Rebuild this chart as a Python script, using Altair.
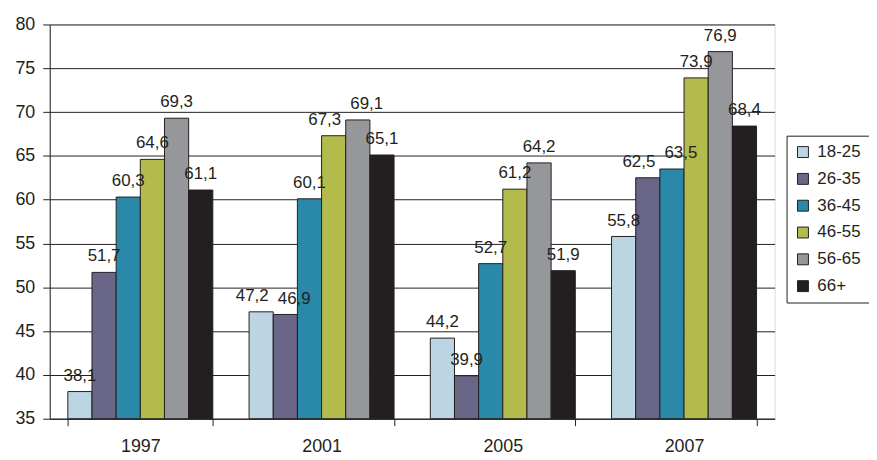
import altair as alt
import pandas as pd

years = ["1997", "2001", "2005", "2007"]
groups = ["18-25", "26-35", "36-45", "46-55", "56-65", "66+"]
colors = ["#bcd5e3", "#6a6688", "#2a89a9", "#b2bb4c", "#96979b", "#231f20"]

v1997 = [38.1, 51.7, 60.3, 64.6, 69.3, 61.1]
v2001 = [47.2, 46.9, 60.1, 67.3, 69.1, 65.1]
v2005 = [44.2, 39.9, 52.7, 61.2, 64.2, 51.9]
v2007 = [55.8, 62.5, 63.5, 73.9, 76.9, 68.4]

y_ticks = [35, 40, 45, 50, 55, 60, 65, 70, 75, 80]

rows = []
for yr, vals in zip(years, [v1997, v2001, v2005, v2007]):
    for i, (g, v) in enumerate(zip(groups, vals)):
        rows.append({"year": yr, "group": g, "idx": i, "value": v})
df = pd.DataFrame(rows)

FONT = "Liberation Sans"
INK = "#231f20"

x_scale = alt.Scale(paddingInner=0.2, paddingOuter=0.1)
x_enc = alt.X(
    "year:N",
    sort=years,
    scale=x_scale,
    axis=alt.Axis(
        title=None, labelAngle=0, tickBand="extent", tickSize=7,
        labelPadding=12, labelFontSize=18, labelFont=FONT, labelColor=INK,
        domainColor=INK, tickColor=INK, grid=False,
    ),
)
xoff = alt.XOffset("group:N", sort=groups, scale=alt.Scale(paddingInner=0, paddingOuter=0))
y_scale = alt.Scale(domain=[35, 80], zero=False, nice=False)

bars = alt.Chart(df).mark_bar(stroke=INK, strokeWidth=1).encode(
    x=x_enc,
    xOffset=xoff,
    y=alt.Y(
        "value:Q", scale=y_scale, stack=None,
        axis=alt.Axis(
            title=None, values=y_ticks, tickSize=7, labelPadding=8,
            labelFontSize=18, labelFont=FONT, labelColor=INK,
            domainColor=INK, tickColor=INK,
            gridColor=INK, gridOpacity=1, gridWidth=1,
        ),
    ),
    y2=alt.Y2(datum=35),
    color=alt.Color(
        "group:N", sort=groups,
        scale=alt.Scale(domain=groups, range=colors),
        legend=alt.Legend(
            title=None, orient="none", legendX=742, legendY=112,
            strokeColor=INK, padding=8,
            symbolType="square", symbolSize=121, symbolStrokeColor=INK,
            symbolStrokeWidth=1, labelFontSize=17, labelFont=FONT,
            labelColor=INK, rowPadding=9, labelOffset=6,
        ),
    ),
)

# label placement: nudge labels apart when neighbouring bars have similar heights
label_base = alt.Chart(df).transform_window(
    prev="lag(value)", nxt="lead(value)", groupby=["year"], sort=[alt.SortField("idx")]
).transform_calculate(
    label="replace(format(datum.value, '.1f'), '.', ',')",
    side="isValid(datum.nxt) && abs(datum.value - datum.nxt) < 2 ? 'L' : "
         "(isValid(datum.prev) && abs(datum.value - datum.prev) < 2 ? 'R' : 'C')",
)


def label_layer(side, dx):
    return label_base.transform_filter(alt.datum.side == side).mark_text(
        baseline="bottom", dy=-7, dx=dx, fontSize=17, font=FONT, color=INK
    ).encode(
        x=alt.X("year:N", sort=years, scale=x_scale),
        xOffset=xoff,
        y=alt.Y("value:Q", scale=y_scale),
        text="label:N",
    )


chart = alt.layer(
    bars, label_layer("C", 0), label_layer("L", -9), label_layer("R", 9)
).properties(
    width=730, height=397,
    autosize=alt.AutoSizeParams(type="none"),
    padding={"left": 42, "top": 15, "right": 95, "bottom": 40},
).configure_view(
    stroke=INK, strokeWidth=1
).configure(background="white")

chart.save("out.html", embed_options={"renderer": "svg", "actions": False})
